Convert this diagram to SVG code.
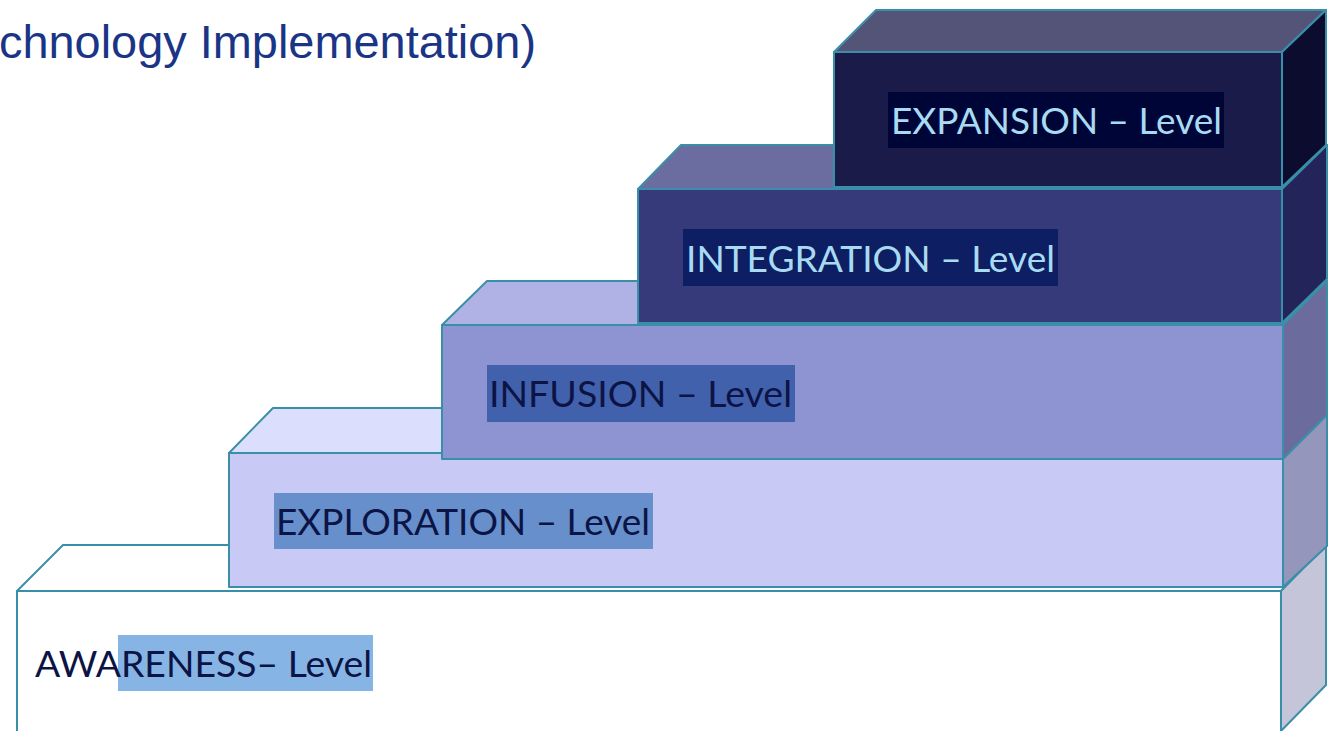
<svg xmlns="http://www.w3.org/2000/svg" width="1328" height="731" viewBox="0 0 1328 731">
<style>
.edge{stroke:#3a8fa8;stroke-width:2;stroke-linejoin:round}
.lbl{font-family:Lato,"Open Sans","Liberation Sans",sans-serif;font-size:37px}
.light{fill:#a8dbf2}
.dark{fill:#0c1445}
.title{font-family:"Liberation Sans",Arial,sans-serif;font-size:47px;fill:#1b3586}
</style>
<rect x="0" y="0" width="1328" height="731" fill="#ffffff"/>
<text class="title" x="-1" y="58" textLength="537" lengthAdjust="spacingAndGlyphs">chnology Implementation)</text>

<g id="awareness">
<polygon class="edge" points="17,591 63,545 1326,545 1281,591" fill="#ffffff"/>
<polygon class="edge" points="1281,591 1326,545 1326,685 1281,731" fill="#c4c5d8"/>
<rect class="edge" x="17" y="591" width="1264" height="142" fill="#ffffff"/>
<rect x="118" y="635" width="255" height="56" fill="#86b4e4"/>
<text class="lbl dark" x="35" y="677" textLength="337" lengthAdjust="spacingAndGlyphs">AWARENESS– Level</text>
</g>

<g id="exploration">
<polygon class="edge" points="229,453 273,408 1327,408 1283,453" fill="#dcdefd"/>
<polygon class="edge" points="1283,453 1327,409 1327,546 1283,587" fill="#9596bc"/>
<rect class="edge" x="229" y="453" width="1054" height="134" fill="#c8c9f4"/>
<rect x="274" y="493" width="379" height="56" fill="#668fcb"/>
<text class="lbl dark" x="276" y="535" textLength="374" lengthAdjust="spacingAndGlyphs">EXPLORATION – Level</text>
</g>

<g id="infusion">
<polygon class="edge" points="442,325 487,281 1327,281 1283,325" fill="#b0b2e6"/>
<polygon class="edge" points="1283,325 1327,281 1327,415 1283,459" fill="#6b6b9e"/>
<rect class="edge" x="442" y="325" width="841" height="134" fill="#8e93d1"/>
<rect x="487" y="365" width="308" height="57" fill="#4161ad"/>
<text class="lbl dark" x="489" y="407" textLength="303" lengthAdjust="spacingAndGlyphs">INFUSION – Level</text>
</g>

<g id="integration">
<polygon class="edge" points="638,189 681,145 1327,145 1282,189" fill="#6b6c9f"/>
<polygon class="edge" points="1282,189 1327,145 1327,279 1282,323" fill="#23255a"/>
<rect class="edge" x="638" y="189" width="644" height="134" fill="#363a7b"/>
<rect x="683" y="229" width="375" height="57" fill="#0e1e62"/>
<text class="lbl light" x="686" y="272" textLength="369" lengthAdjust="spacingAndGlyphs">INTEGRATION – Level</text>
</g>

<g id="expansion">
<polygon class="edge" points="834,52 876,10 1326,10 1282,52" fill="#545479"/>
<polygon class="edge" points="1282,52 1326,10 1326,145 1282,187" fill="#0c0c2f"/>
<rect class="edge" x="834" y="52" width="448" height="135" fill="#1b1b4a"/>
<rect x="888" y="92" width="336" height="56" fill="#000538"/>
<text class="lbl light" x="891" y="134" textLength="331" lengthAdjust="spacingAndGlyphs">EXPANSION – Level</text>
</g>

<g id="connectors"></g>
</svg>
